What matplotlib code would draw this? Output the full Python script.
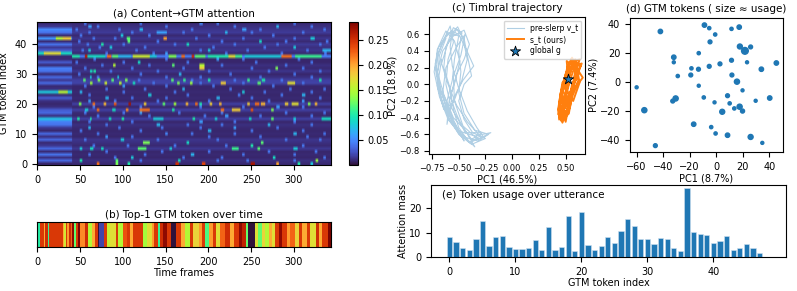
import numpy as np
import matplotlib
matplotlib.use("Agg")
import matplotlib.pyplot as plt

plt.rcParams['font.family'] = ['DejaVu Sans']
plt.rcParams['font.size'] = 7

# ---------------- data ----------------
n_tokens = 48
n_frames = 344
split = 41  # first frames are steady

# background level per token row (frames 0-40)
base_early = [0.008, 0.035, 0.012, 0.04, 0.01, 0.035, 0.015, 0.01, 0.035, 0.012,
              0.035, 0.008, 0.015, 0.04, 0.045, 0.075, 0.012, 0.035, 0.03, 0.012,
              0.008, 0.012, 0.03, 0.01, 0.08, 0.012, 0.01, 0.035, 0.015, 0.035,
              0.01, 0.04, 0.045, 0.01, 0.03, 0.01, 0.01, 0.09, 0.03, 0.015,
              0.04, 0.01, 0.055, 0.01, 0.04, 0.05, 0.015, 0.01]
# background level per token row (frames 41-end)
base_late = [0.01, 0.012, 0.008, 0.01, 0.008, 0.015, 0.01, 0.012, 0.014, 0.008,
             0.01, 0.008, 0.01, 0.012, 0.008, 0.018, 0.008, 0.01, 0.018, 0.008,
             0.018, 0.008, 0.01, 0.008, 0.01, 0.008, 0.008, 0.02, 0.018, 0.012,
             0.008, 0.014, 0.01, 0.012, 0.008, 0.008, 0.045, 0.01, 0.014, 0.012,
             0.016, 0.01, 0.014, 0.01, 0.016, 0.014, 0.012, 0.01]

# attention hot spots: (token, first frame, last frame, value)
spots = [
    (42, 22, 30, 0.15), (42, 30, 40, 0.18), (37, 8, 28, 0.17), (24, 25, 36, 0.15),
    (36, 41, 50, 0.10), (36, 56, 59, 0.26), (36, 59, 80, 0.09), (36, 82, 87, 0.22),
    (36, 88, 95, 0.12), (36, 95, 110, 0.07), (36, 112, 132, 0.16), (36, 132, 140, 0.08),
    (36, 154, 163, 0.13), (36, 169, 173, 0.22), (36, 181, 184, 0.25), (36, 185, 197, 0.12),
    (36, 200, 224, 0.10), (36, 224, 232, 0.17), (36, 232, 240, 0.11), (36, 243, 285, 0.08),
    (36, 286, 298, 0.22), (36, 302, 333, 0.11),
    (20, 49, 52, 0.13), (20, 65, 68, 0.22), (20, 78, 81, 0.19), (20, 90, 93, 0.23),
    (20, 107, 110, 0.27), (20, 125, 128, 0.18), (20, 147, 150, 0.12), (20, 160, 163, 0.14),
    (20, 174, 177, 0.19), (20, 185, 188, 0.22), (20, 190, 193, 0.10), (20, 202, 205, 0.18),
    (20, 213, 216, 0.19), (20, 246, 249, 0.18), (20, 255, 260, 0.22), (20, 262, 267, 0.19),
    (20, 290, 294, 0.18), (20, 298, 306, 0.17), (20, 317, 320, 0.13), (20, 325, 328, 0.19),
    (18, 70, 73, 0.22), (18, 104, 107, 0.21), (18, 120, 132, 0.22), (18, 158, 161, 0.10),
    (18, 215, 219, 0.22), (18, 228, 238, 0.18), (18, 250, 253, 0.23), (18, 274, 277, 0.13),
    (18, 56, 60, 0.08), (18, 88, 92, 0.09),
    (15, 47, 50, 0.10), (15, 62, 64, 0.10), (15, 84, 87, 0.09), (15, 99, 102, 0.10),
    (15, 136, 148, 0.08), (15, 182, 185, 0.10), (15, 208, 211, 0.08), (15, 248, 251, 0.09),
    (15, 274, 277, 0.12), (15, 300, 303, 0.08), (15, 333, 344, 0.09),
    (28, 54, 57, 0.12), (27, 62, 65, 0.14), (28, 71, 74, 0.13), (27, 79, 82, 0.16),
    (28, 87, 90, 0.12), (27, 96, 99, 0.15), (28, 103, 106, 0.13), (27, 112, 115, 0.09),
    (28, 157, 160, 0.12), (27, 164, 167, 0.13), (28, 171, 174, 0.11), (27, 179, 182, 0.14),
    (28, 200, 203, 0.10), (27, 215, 221, 0.18), (28, 246, 249, 0.11), (27, 258, 262, 0.12),
    (28, 263, 267, 0.10), (27, 293, 302, 0.17), (28, 330, 333, 0.10), (29, 62, 64, 0.08),
    (29, 94, 96, 0.08),
    (32, 190, 196, 0.18), (33, 190, 196, 0.15), (33, 89, 92, 0.15), (32, 279, 282, 0.13),
    (31, 62, 65, 0.09), (31, 66, 69, 0.10), (33, 158, 161, 0.12), (30, 166, 169, 0.07),
    (34, 118, 121, 0.09),
    (5, 50, 53, 0.08), (5, 62, 66, 0.09), (5, 75, 78, 0.09), (5, 118, 128, 0.12),
    (5, 155, 158, 0.08), (5, 228, 236, 0.11), (5, 258, 261, 0.12), (5, 300, 305, 0.08),
    (7, 124, 132, 0.13), (7, 262, 265, 0.12), (8, 98, 102, 0.08), (7, 175, 178, 0.09),
    (6, 250, 253, 0.10),
    (0, 70, 73, 0.22), (0, 92, 95, 0.13), (0, 106, 109, 0.10), (0, 162, 166, 0.25),
    (0, 193, 197, 0.24), (0, 250, 255, 0.27), (0, 280, 283, 0.20), (0, 305, 308, 0.10),
    (0, 320, 323, 0.08),
    (1, 50, 53, 0.10), (1, 92, 95, 0.12), (1, 165, 168, 0.09), (1, 326, 329, 0.14),
    (2, 110, 113, 0.08), (3, 180, 184, 0.07), (2, 276, 279, 0.09),
    (12, 60, 63, 0.07), (13, 140, 144, 0.07), (11, 200, 204, 0.07), (10, 300, 304, 0.07),
    (12, 230, 233, 0.06), (13, 270, 273, 0.07), (9, 80, 83, 0.06), (10, 150, 153, 0.05),
    (22, 80, 84, 0.07), (23, 130, 134, 0.08), (22, 210, 214, 0.07), (23, 310, 314, 0.07),
    (24, 50, 53, 0.07), (25, 170, 173, 0.07), (24, 240, 243, 0.08), (26, 100, 103, 0.06),
    (38, 60, 63, 0.08), (40, 75, 78, 0.10), (41, 106, 109, 0.12), (39, 85, 88, 0.08),
    (45, 120, 124, 0.07), (43, 98, 101, 0.08), (40, 175, 178, 0.09), (38, 200, 203, 0.08),
    (44, 220, 223, 0.07), (41, 260, 263, 0.09), (39, 300, 303, 0.08), (46, 280, 283, 0.07),
    (42, 320, 325, 0.08), (38, 334, 344, 0.07), (42, 148, 152, 0.20), (44, 140, 152, 0.06),
    (42, 105, 109, 0.12), (46, 60, 64, 0.06), (47, 190, 194, 0.05), (45, 240, 245, 0.06),
    (14, 190, 194, 0.06), (16, 220, 224, 0.06), (17, 120, 123, 0.06), (19, 280, 284, 0.06),
    (21, 60, 63, 0.06), (21, 310, 313, 0.06), (35, 210, 213, 0.06), (37, 150, 153, 0.06),
]

# light-blue speckle in the active part: token -> frames
speckle = {
    47: [55, 120, 210, 300], 46: [70, 150, 230, 320], 45: [45, 95, 180, 260, 335],
    44: [60, 110, 170, 250, 310], 43: [50, 130, 200, 275], 42: [65, 90, 185, 240, 300],
    41: [48, 140, 215, 290, 338], 40: [58, 100, 160, 230, 280, 330], 39: [72, 125, 205, 265],
    38: [52, 115, 190, 245, 315], 37: [80, 135, 220, 285, 336], 35: [66, 150, 240, 305],
    34: [45, 100, 175, 255, 320], 33: [75, 130, 215, 290], 32: [55, 110, 170, 250, 310],
    31: [85, 140, 200, 270, 330], 30: [48, 120, 225, 300], 29: [70, 150, 190, 260, 320],
    28: [118, 180, 230, 285], 27: [135, 190, 240, 310], 26: [55, 150, 205, 275],
    25: [80, 125, 225, 295, 335], 24: [100, 160, 265, 320], 23: [60, 175, 235, 285],
    22: [110, 150, 250, 330], 21: [90, 140, 200, 270], 19: [65, 120, 190, 240, 310],
    17: [55, 100, 165, 215, 290, 335], 16: [70, 130, 195, 260, 320], 14: [60, 110, 230, 300],
    13: [80, 175, 215, 320], 12: [95, 145, 190, 280], 11: [50, 120, 250, 310],
    10: [70, 180, 230, 335], 9: [110, 200, 260, 315], 8: [55, 140, 210, 290, 330],
    6: [65, 105, 160, 220, 310], 4: [80, 145, 200, 270, 325], 3: [60, 125, 240, 300],
    2: [90, 170, 215, 335], 1: [120, 210, 245, 300],
}

# top-1 token per frame: (start frame, token)
top1_segments = [
    (0, 15), (3, 36), (8, 29), (9, 37), (13, 16), (14, 36), (30, 29), (32, 24), (34, 36),
    (35, 30), (37, 37), (40, 33), (41, 41), (43, 18), (46, 36), (48, 42), (50, 31),
    (56, 37), (60, 22), (64, 29), (68, 36), (71, 0), (73, 3), (78, 36), (82, 23),
    (85, 25), (93, 36), (95, 22), (101, 34), (105, 36), (109, 29), (112, 36), (124, 21),
    (129, 25), (134, 30), (137, 36), (141, 16), (144, 37), (148, 41), (152, 36), (157, 0),
    (163, 36), (169, 29), (173, 22), (179, 36), (183, 26), (189, 30), (193, 36), (197, 17),
    (201, 30), (206, 36), (210, 25), (214, 33), (220, 37), (226, 29), (230, 36), (236, 41),
    (240, 38), (244, 18), (247, 0), (255, 25), (259, 18), (263, 26), (267, 22), (271, 29),
    (275, 25), (279, 36), (283, 41), (287, 36), (292, 30), (296, 33), (302, 26), (306, 36),
    (310, 29), (316, 36), (320, 25), (326, 37), (330, 29), (333, 36), (341, 42),
]

# trajectories in PCA space
pre_x = [-0.62, -0.68, -0.70, -0.66, -0.58, -0.48, -0.32, -0.22,
         -0.35, -0.45, -0.50, -0.48, -0.50, -0.47,
         -0.55, -0.62, -0.64, -0.58, -0.55, -0.50, -0.40, -0.30,
         -0.42, -0.52, -0.60, -0.66, -0.60, -0.52,
         -0.45, -0.42, -0.38, -0.45, -0.50, -0.45, -0.37, -0.25,
         -0.38, -0.50, -0.60, -0.68, -0.72, -0.70, -0.60,
         -0.50, -0.54, -0.56, -0.62, -0.55, -0.42, -0.35,
         -0.44, -0.55, -0.64, -0.70, -0.65, -0.55, -0.45, -0.40,
         -0.45, -0.52, -0.58, -0.52, -0.44, -0.28, -0.38,
         -0.48, -0.57, -0.62, -0.60, -0.55, -0.58,
         -0.66, -0.72, -0.67, -0.60, -0.50, -0.35, -0.20,
         -0.32, -0.46, -0.54, -0.55, -0.48, -0.44, -0.52, -0.62, -0.65, -0.56, -0.45,
         -0.52, -0.60, -0.67, -0.71, -0.69, -0.63, -0.57, -0.50, -0.43, -0.36,
         -0.46, -0.53, -0.58, -0.61, -0.59, -0.53, -0.49, -0.54, -0.62, -0.69,
         -0.73, -0.68, -0.60, -0.48, -0.40, -0.27, -0.33, -0.42, -0.50, -0.56,
         -0.58, -0.56, -0.51, -0.46, -0.42, -0.47, -0.55, -0.64, -0.70, -0.66]
pre_y = [0.55, 0.35, 0.10, -0.20, -0.45, -0.62, -0.68, -0.60,
         -0.55, -0.35, -0.10, 0.15, 0.40, 0.62,
         0.68, 0.45, 0.20, -0.05, -0.30, -0.52, -0.70, -0.62,
         -0.45, -0.25, 0.00, 0.25, 0.50, 0.66,
         0.55, 0.35, 0.10, 0.00, -0.20, -0.42, -0.58, -0.65,
         -0.72, -0.60, -0.38, -0.10, 0.20, 0.42, 0.62,
         0.58, 0.30, 0.05, -0.25, -0.48, -0.66, -0.75,
         -0.55, -0.40, -0.12, 0.15, 0.40, 0.58, 0.65, 0.48,
         0.30, 0.12, -0.15, -0.36, -0.58, -0.58, -0.66,
         -0.48, -0.28, 0.00, 0.30, 0.50, 0.70,
         0.48, 0.25, -0.05, -0.35, -0.56, -0.62, -0.58,
         -0.66, -0.50, -0.20, 0.10, 0.35, 0.60, 0.45, 0.20, -0.10, -0.40, -0.68,
         -0.52, -0.32, -0.08, 0.18, 0.38, 0.55, 0.64, 0.60, 0.42, 0.22,
         0.05, -0.12, -0.30, -0.48, -0.20, 0.05, 0.28, 0.52, 0.64, 0.45,
         0.15, -0.15, -0.42, -0.60, -0.70, -0.63, -0.52, -0.32, -0.05, 0.22,
         0.45, 0.62, 0.69, 0.55, 0.30, 0.05, -0.22, -0.30, -0.02, 0.30]
ours_x = [0.50, 0.58, 0.62, 0.52, 0.46, 0.48, 0.54, 0.60, 0.55, 0.50, 0.45, 0.44, 0.52,
          0.56, 0.64, 0.58, 0.52, 0.47, 0.50, 0.55, 0.62, 0.65, 0.53, 0.48, 0.44, 0.46,
          0.53, 0.57, 0.60, 0.56, 0.50, 0.45, 0.51, 0.58, 0.63, 0.54, 0.49, 0.46, 0.49,
          0.54, 0.59, 0.61, 0.52, 0.47, 0.48, 0.55, 0.62, 0.57, 0.51, 0.53,
          0.49, 0.43, 0.45, 0.50, 0.56, 0.61, 0.66, 0.60, 0.53, 0.47, 0.43, 0.47,
          0.55, 0.50, 0.57, 0.63, 0.59, 0.52, 0.46, 0.44]
ours_y = [0.05, 0.25, 0.12, -0.15, -0.35, -0.42, -0.20, 0.20, 0.30, 0.10, -0.20, -0.40, -0.30,
          0.00, 0.22, 0.28, 0.05, -0.28, -0.45, -0.10, 0.15, 0.25, 0.20, -0.05, -0.25, -0.44,
          -0.35, -0.05, 0.28, 0.12, -0.10, -0.38, -0.25, 0.05, 0.30, 0.25, 0.00, -0.15, -0.40,
          -0.28, 0.10, 0.25, 0.15, -0.10, -0.30, -0.15, 0.05, 0.22, 0.28, 0.00,
          -0.22, -0.36, -0.12, 0.12, 0.32, 0.18, 0.08, -0.02, -0.25, -0.46, -0.30, 0.02,
          0.18, -0.05, -0.20, 0.02, 0.30, 0.22, -0.08, -0.42]
global_g = (0.52, 0.07)

# GTM token embedding PCA + usage
tok_x = [-60.0, -54.2, -45.9, -42.1, -32.0, -32.0, -29.0, -32.8, -30.6, -18.7, -19.2, -17.0,
         -13.2, -13.4, -13.2, -8.9, -9.4, -5.3, -5.3, -4.7, -0.8, -1.3, -0.5, -3.8,
         2.8, 4.5, 8.5, 8.5, 10.1, 11.5, 11.5, 11.8, 13.6, 15.6, 17.3, 17.8,
         17.6, 19.8, 19.8, 21.6, 23.2, 25.9, 25.9, 29.7, 34.0, 34.7, 40.3, 45.3]
tok_y = [-3.9, -19.7, -44.2, 34.7, 16.9, 13.4, 3.9, -13.4, -11.6, 9.2, 4.6, -29.4,
         19.7, 8.6, -2.8, 39.1, -10.9, 37.0, 10.6, 27.5, 32.6, -14.3, -35.8, -31.4,
         12.3, -20.8, -37.0, -9.7, -15.0, 36.5, 14.8, 4.6, -18.5, 0.0, 37.7, 24.3,
         -17.3, -6.0, -20.3, 21.3, 13.4, 24.0, -38.2, -13.2, 8.6, -42.3, -11.3, 12.9]
tok_usage = [3, 15, 7, 10, 10, 3, 4, 7, 15, 4, 7, 10,
             4, 7, 3, 10, 4, 4, 7, 7, 4, 3, 4, 4,
             7, 14, 10, 7, 4, 4, 7, 7, 4, 15, 10, 14,
             15, 3, 8, 28, 3, 7, 14, 3, 10, 3, 10, 10]

# token usage over the utterance
usage = [8.3, 6.1, 3.75, 2.8, 7.2, 14.6, 4.7, 8.1, 8.6, 4.2, 3.1, 3.1,
         3.6, 6.9, 2.9, 12.5, 2.9, 4.3, 16.8, 2.5, 18.6, 5.1, 2.8, 4.6,
         8.2, 5.8, 10.7, 15.8, 12.8, 7.4, 7.2, 5.4, 7.9, 7.2, 3.5, 2.4,
         28.2, 10.4, 9.3, 9.0, 5.6, 6.4, 8.6, 2.9, 3.6, 5.4, 3.6, 1.5]

# ---------------- build arrays ----------------
attn = np.zeros((n_tokens, n_frames))
attn[:, :split] = np.array(base_early)[:, None]
attn[:, split:] = np.array(base_late)[:, None]
for r, frames in speckle.items():
    for f in frames:
        attn[r, f:f + 3] = np.maximum(attn[r, f:f + 3], 0.042)
for r, f0, f1, v in spots:
    attn[r, f0:f1] = np.maximum(attn[r, f0:f1], v)

top1 = np.zeros(n_frames)
starts = [s for s, _ in top1_segments] + [n_frames]
for i, (s, tok) in enumerate(top1_segments):
    top1[s:starts[i + 1]] = tok

# ---------------- figure ----------------
fig = plt.figure(figsize=(7.97, 2.91), dpi=100)
W, H = 797.0, 291.0

def box(x0, y0, x1, y1):
    return [x0 / W, 1 - y1 / H, (x1 - x0) / W, (y1 - y0) / H]

# (a) heatmap
ax_a = fig.add_axes(box(37, 22, 331, 165))
im = ax_a.imshow(attn, aspect='auto', origin='lower', cmap='turbo', interpolation='bilinear',
                 vmin=0.0, vmax=0.286, extent=[-0.5, n_frames - 0.5, -0.5, n_tokens - 0.5])
ax_a.set_title("(a) Content\u2192GTM attention", fontsize=7.5, pad=4)
ax_a.set_ylabel("GTM token index")
ax_a.set_xticks([0, 50, 100, 150, 200, 250, 300])
ax_a.set_yticks([0, 10, 20, 30, 40])
cax = fig.add_axes(box(349, 22, 358, 165))
cb = fig.colorbar(im, cax=cax)
cb.set_ticks([0.05, 0.10, 0.15, 0.20, 0.25])
cb.ax.tick_params(labelsize=7)

# (b) top-1 strip
ax_b = fig.add_axes(box(37, 222, 331, 247))
ax_b.imshow(top1[None, :], aspect='auto', cmap='turbo',
            extent=[-0.5, n_frames - 0.5, 0, 1], interpolation='nearest')
ax_b.set_yticks([])
ax_b.set_xticks([0, 50, 100, 150, 200, 250, 300])
ax_b.set_title("(b) Top-1 GTM token over time", fontsize=7.5, pad=3)
ax_b.set_xlabel("Time frames", labelpad=1)

# (c) trajectory
ax_c = fig.add_axes(box(429, 17, 585, 154))
ax_c.plot(pre_x, pre_y, color='tab:blue', alpha=0.35, lw=0.8, label='pre-slerp v_t')
ax_c.plot(ours_x, ours_y, color='tab:orange', lw=1.4, label='s_t (ours)')
ax_c.scatter([global_g[0]], [global_g[1]], marker='*', s=60, color='tab:blue',
             edgecolor='black', linewidth=0.6, zorder=3, label='global g')
ax_c.set_xlim(-0.778, 0.681)
ax_c.set_ylim(-0.836, 0.808)
ax_c.set_xticks([-0.75, -0.5, -0.25, 0.0, 0.25, 0.5])
ax_c.set_yticks([-0.8, -0.6, -0.4, -0.2, 0.0, 0.2, 0.4, 0.6])
ax_c.tick_params(labelsize=6)
ax_c.set_title("(c) Timbral trajectory", fontsize=7.5, pad=4)
ax_c.set_xlabel("PC1 (46.5%)", labelpad=1)
ax_c.set_ylabel("PC2 (18.9%)", labelpad=1)
ax_c.legend(loc='upper right', fontsize=5.5, handlelength=2.2, borderpad=0.4,
            labelspacing=0.3)

# (d) GTM tokens
ax_d = fig.add_axes(box(630, 18, 783, 152))
ax_d.scatter(tok_x, tok_y, s=[2.5 + 0.75 * u for u in tok_usage], color='tab:blue')
ax_d.set_xlim(-65, 50.3)
ax_d.set_ylim(-48.6, 44)
ax_d.set_xticks([-60, -40, -20, 0, 20, 40])
ax_d.set_yticks([-40, -20, 0, 20, 40])
ax_d.set_title("(d) GTM tokens ( size \u2248 usage)", fontsize=7.5, pad=4)
ax_d.set_xlabel("PC1 (8.7%)", labelpad=1)
ax_d.set_ylabel("PC2 (7.4%)", labelpad=1)

# (e) usage bars
ax_e = fig.add_axes(box(431, 185, 786, 257))
ax_e.bar(np.arange(len(usage)), usage, color='tab:blue', edgecolor='#cfe0ef', linewidth=0.4)
ax_e.set_xlim(-2.8, 51)
ax_e.set_xticks([0, 10, 20, 30, 40])
ax_e.set_yticks([0, 10, 20])
ax_e.text(0.03, 0.86, "(e) Token usage over utterance", transform=ax_e.transAxes,
          fontsize=7.5, va='center')
ax_e.set_xlabel("GTM token index", labelpad=1)
ax_e.set_ylabel("Attention mass", labelpad=1)

fig.savefig("out.png", dpi=100)
